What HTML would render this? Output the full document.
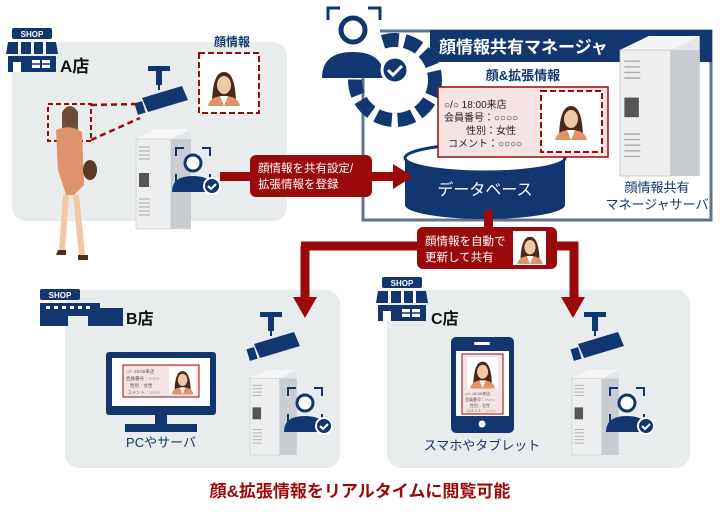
<!DOCTYPE html>
<html><head><meta charset="utf-8"><style>
body{margin:0;background:#fff;width:720px;height:510px;overflow:hidden;font-family:"Liberation Sans","Noto Sans CJK JP",sans-serif}
svg text{font-family:"Liberation Sans","Noto Sans CJK JP",sans-serif}
</style></head><body>
<svg width="720" height="510" viewBox="0 0 720 510" xmlns="http://www.w3.org/2000/svg">
<defs>
<g id="server">
<path d="M0 10 L20 0 L55 0 L55 90 L35 100 L0 100Z" fill="#e4e6e8"/>
<path d="M0 10 L20 0 L55 0 L35 10Z" fill="#f4f5f6"/>
<rect x="35" y="10" width="20" height="90" fill="#c9ccd0"/>
<rect x="0" y="10" width="35" height="90" fill="#eceef0" stroke="#bbb" stroke-width="0.5"/>
<g stroke="#aaa" stroke-width="1"><line x1="3" y1="18" x2="14" y2="18"/><line x1="3" y1="22" x2="14" y2="22"/><line x1="3" y1="26" x2="14" y2="26"/><line x1="3" y1="30" x2="14" y2="30"/><line x1="3" y1="70" x2="14" y2="70"/><line x1="3" y1="74" x2="14" y2="74"/><line x1="3" y1="78" x2="14" y2="78"/><line x1="3" y1="82" x2="14" y2="82"/><line x1="3" y1="86" x2="14" y2="86"/></g>
<rect x="3" y="44" width="10" height="14" fill="#555"/>
</g>
<g id="faceicon">
<path d="M0 8V0H8M26 0H34V8M0 26V34H8M34 26V34H26" fill="none" stroke="#123670" stroke-width="2"/>
<circle cx="17" cy="15" r="8" fill="#fff" stroke="#123670" stroke-width="3"/>
<path d="M-4 44 Q-4 28 17 28 Q38 28 38 44Z" fill="#123670"/>
<circle cx="36" cy="38" r="8" fill="#123670" stroke="#fff" stroke-width="2"/>
<path d="M32 38l3 3 5-5" fill="none" stroke="#fff" stroke-width="2"/>
</g>
<g id="camera">
<rect x="6" y="0" width="22" height="5" fill="#123670"/><rect x="14" y="5" width="6" height="14" fill="#123670"/>
<rect x="16" y="19" width="2" height="5" fill="#123670"/>
<path d="M0 32 L40 20 L46 34 L6 46Z" fill="#123670"/>
<rect x="-6" y="36" width="8" height="12" fill="#123670" transform="rotate(-17 -2 42)"/>
</g>
<g id="shop">
<rect x="6" y="0" width="40" height="11" rx="2" fill="#123670"/>
<text x="26" y="9" font-size="8" font-weight="bold" fill="#fff" text-anchor="middle">SHOP</text>
<path d="M2 14 H50 L52 26 H0Z" fill="#123670"/>
<g fill="#fff"><rect x="12" y="14" width="3" height="12"/><rect x="25" y="14" width="3" height="12"/><rect x="37" y="14" width="3" height="12"/></g>
<path d="M2 28 H50 V44 H2Z" fill="#123670"/>
<path d="M7 44 V34 H15 V44Z" fill="#fff"/>
<rect x="26" y="32" width="18" height="8" fill="#fff"/><line x1="35" y1="32" x2="35" y2="40" stroke="#123670" stroke-width="2"/><line x1="26" y1="36" x2="44" y2="36" stroke="#123670" stroke-width="1.5"/>
</g>
<g id="face">
<rect width="40" height="40" fill="#fff"/>
<path d="M8 40 Q8 6 20 6 Q32 6 32 40Z" fill="#4a2a1a"/>
<ellipse cx="20" cy="19" rx="7" ry="9" fill="#f2c7a5"/>
<path d="M4 40 Q6 30 20 30 Q34 30 36 40Z" fill="#e0936a"/>
<path d="M16 30 L20 40 L24 30Z" fill="#fff"/>
</g>
</defs>

<!-- A panel -->
<rect x="12" y="42" width="275" height="179" rx="14" fill="#e9ecec"/>
<use href="#shop" x="6" y="28"/>
<text x="60" y="72" font-size="17" font-weight="bold" fill="#111">A店</text>
<text x="232" y="46" font-size="12" font-weight="bold" fill="#123670" text-anchor="middle">顔情報</text>
<rect x="199" y="53" width="60" height="60" fill="#fff" stroke="#9a0a0a" stroke-width="2" stroke-dasharray="6,3"/>
<use href="#face" x="204" y="66"/>
<use href="#camera" x="142" y="66"/>
<path d="M91 105 L140 104 M91 140 L140 118" stroke="#9a0a0a" stroke-width="2.5" stroke-dasharray="6,4"/>
<rect x="48" y="104" width="43" height="37" fill="none" stroke="#9a0a0a" stroke-width="2" stroke-dasharray="5,3"/>
<!-- person -->
<circle cx="70" cy="117" r="8" fill="#f2c7a5"/><path d="M62 112 Q70 100 78 112 L78 130 L62 130Z" fill="#4a2a1a" opacity=".8"/>
<path d="M56 130 Q70 124 82 132 L84 185 L74 195 L66 195 L58 170Z" fill="#e0936a"/>
<path d="M66 195 L62 250 M76 195 L82 255" stroke="#f2c7a5" stroke-width="6"/>
<path d="M58 250 l8 0 0 5 -10 0Z M78 255 l10 0 0 5 -10 0Z" fill="#4a3020"/>
<ellipse cx="90" cy="170" rx="7" ry="10" fill="#5a3a24"/>
<use href="#server" x="136" y="129"/>
<use href="#faceicon" x="176" y="148"/>

<!-- Manager box -->
<rect x="363" y="31" width="348" height="189" fill="#fff" stroke="#60748b" stroke-width="3"/>
<rect x="430" y="30" width="282" height="32" fill="#123670"/>
<text x="439" y="53" font-size="17" font-weight="bold" fill="#fff">顔情報共有マネージャ</text>
<!-- gear icon -->
<circle cx="395" cy="80" r="40" fill="none" stroke="#123670" stroke-width="14" stroke-dasharray="16,6"/>
<circle cx="395" cy="75" r="28" fill="#fff"/>
<rect x="325" y="8" width="55" height="60" fill="#fff"/>
<path d="M328 20V8H340M368 8H380V20" fill="none" stroke="#123670" stroke-width="3"/>
<circle cx="353" cy="30" r="12" fill="#fff" stroke="#123670" stroke-width="5"/>
<path d="M322 78 Q322 52 353 52 Q384 52 384 78Z" fill="#123670"/>
<circle cx="395" cy="70" r="13" fill="#123670" stroke="#fff" stroke-width="3"/>
<path d="M388 70l5 5 9-9" fill="none" stroke="#fff" stroke-width="3"/>
<text x="523" y="80" font-size="13" font-weight="bold" fill="#123670" text-anchor="middle">顔&amp;拡張情報</text>
<!-- cylinder -->
<path d="M405 158 V205 A80 14 0 0 0 565 205 V158Z" fill="#123670"/>
<ellipse cx="485" cy="158" rx="80" ry="14" fill="#fff" stroke="#123670" stroke-width="3"/>
<text x="485" y="195" font-size="16" fill="#fff" text-anchor="middle">データベース</text>
<rect x="438" y="87" width="170" height="70" fill="#f6e4e4" stroke="#9a0a0a" stroke-width="1.5"/>
<g font-size="10" fill="#222"><text x="444" y="108">○/○ 18:00来店</text><text x="444" y="121">会員番号：○○○○</text><text x="466" y="134">性別：女性</text><text x="448" y="147">コメント：○○○○</text></g>
<rect x="541" y="91" width="61" height="61" fill="#fff" stroke="#9a0a0a" stroke-width="2" stroke-dasharray="6,3"/>
<use href="#face" x="551" y="100"/>
<g transform="translate(620,36) scale(1.45,1.4)"><use href="#server"/></g>
<text x="657" y="192" font-size="13" fill="#123670" text-anchor="middle">顔情報共有</text>
<text x="657" y="209" font-size="13" fill="#123670" text-anchor="middle">マネージャサーバ</text>

<!-- B panel -->
<rect x="65" y="290" width="275" height="178" rx="14" fill="#e9ecec"/>
<rect x="40" y="289" width="40" height="11" rx="2" fill="#123670"/>
<text x="60" y="298" font-size="8" font-weight="bold" fill="#fff" text-anchor="middle">SHOP</text>
<path d="M40 303 H100 V308 H123 V326 H40Z" fill="#123670"/>
<g fill="#fff"><rect x="46" y="306" width="4" height="3"/><rect x="54" y="306" width="4" height="3"/><rect x="62" y="306" width="4" height="3"/><rect x="70" y="306" width="4" height="3"/><rect x="78" y="306" width="4" height="3"/><rect x="86" y="306" width="4" height="3"/></g>
<rect x="68" y="316" width="20" height="10" fill="#e9ecec"/>
<text x="126" y="324" font-size="16" font-weight="bold" fill="#111">B店</text>
<rect x="106" y="352" width="110" height="63" rx="3" fill="#123670"/>
<rect x="112" y="358" width="98" height="48" fill="#fff"/>
<rect x="123" y="365" width="76" height="32" fill="#f6e4e4" stroke="#9a0a0a"/>
<g font-size="4.5" fill="#555"><text x="126" y="373">○/○ 18:00来店</text><text x="126" y="380">会員番号：○○○○</text><text x="130" y="387">性別：女性</text><text x="127" y="394">コメント：○○○○</text></g>
<use href="#face" transform="translate(169,367) scale(0.68)"/>
<rect x="155" y="415" width="12" height="10" fill="#123670"/>
<rect x="125" y="424" width="72" height="8" fill="#123670"/>
<text x="161" y="447" font-size="13" fill="#123670" text-anchor="middle">PCやサーバ</text>
<use href="#camera" x="254" y="312"/>
<g transform="translate(250,370) scale(0.85)"><use href="#server"/></g>
<use href="#faceicon" x="288" y="388"/>

<!-- C panel -->
<rect x="387" y="290" width="303" height="178" rx="14" fill="#e9ecec"/>
<use href="#shop" x="376" y="277"/>
<text x="431" y="324" font-size="16" font-weight="bold" fill="#111">C店</text>
<rect x="451" y="337" width="63" height="96" rx="5" fill="#123670"/>
<rect x="456" y="351" width="53" height="65" fill="#fff"/>
<rect x="474" y="342" width="16" height="3" rx="1.5" fill="#fff"/>
<circle cx="482" cy="424" r="3.5" fill="#fff"/>
<rect x="462" y="354" width="41" height="60" fill="#f6e4e4" stroke="#9a0a0a"/>
<use href="#face" transform="translate(467,357) scale(0.78)"/>
<g font-size="4" fill="#555"><text x="465" y="395">○/○ 18:00来店</text><text x="465" y="401">会員番号：○○○○</text><text x="470" y="407">性別：女性</text><text x="466" y="412">コメント：○○○○</text></g>
<text x="482" y="450" font-size="13" fill="#123670" text-anchor="middle">スマホやタブレット</text>
<use href="#camera" x="578" y="312"/>
<g transform="translate(572,370) scale(0.85)"><use href="#server"/></g>
<use href="#faceicon" x="610" y="388"/>

<!-- arrow A -> DB -->
<rect x="220" y="172" width="176" height="9" fill="#9a0a0a"/>
<path d="M393 164 L413 176.5 L393 189Z" fill="#9a0a0a"/>
<rect x="250" y="155" width="122" height="42" rx="6" fill="#9a0a0a"/>
<text x="258" y="172" font-size="11.5" fill="#fff">顔情報を共有設定/</text>
<text x="258" y="188" font-size="11.5" fill="#fff">拡張情報を登録</text>

<!-- distribution arrows -->
<rect x="484" y="210" width="9" height="30" fill="#9a0a0a"/>
<path d="M301 246 H574 V300 M305 246 V300" fill="none" stroke="#9a0a0a" stroke-width="9"/>
<path d="M293 297 L317 297 L305 318Z M561 297 L585 297 L573 318Z" fill="#9a0a0a"/>
<rect x="417" y="227" width="140" height="42" rx="6" fill="#9a0a0a"/>
<text x="425" y="245" font-size="11.5" fill="#fff">顔情報を自動で</text>
<text x="425" y="261" font-size="11.5" fill="#fff">更新して共有</text>
<rect x="513" y="231" width="33" height="34" fill="#fff"/>
<use href="#face" transform="translate(514,232) scale(0.8)"/>

<text x="360" y="497" font-size="17" font-weight="bold" fill="#9a0a0a" text-anchor="middle">顔&amp;拡張情報をリアルタイムに閲覧可能</text>
</svg>
</body></html>
